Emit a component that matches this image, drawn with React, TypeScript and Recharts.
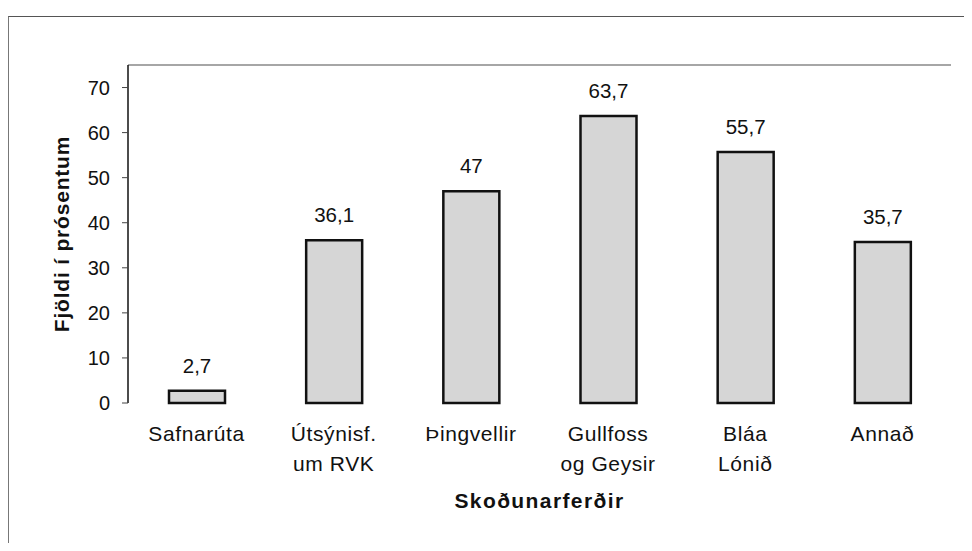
import { BarChart, Bar, XAxis, YAxis, LabelList, ReferenceLine } from 'recharts'

const categories = ['Safnarúta', 'Útsýnisf.\num RVK', 'Þingvellir', 'Gullfoss\nog Geysir', 'Bláa\nLónið', 'Annað']
const percents = [2.7, 36.1, 47, 63.7, 55.7, 35.7]
const yTicks = [0, 10, 20, 30, 40, 50, 60, 70]
const slotTicks = [0, 1, 2, 3, 4, 5, 6]

const chartData = categories.map((name, i) => ({ name, value: percents[i] }))

const FONT = '"Liberation Sans", Arial, Helvetica, sans-serif'

function formatValue(v: number): string {
  return String(v).replace('.', ',')
}

function CategoryTick({ x, y, payload }: { x?: number; y?: number; payload?: { value: string } }) {
  const lines = (payload?.value ?? '').split('\n')
  return (
    <text x={x} y={y} textAnchor="middle" fontFamily={FONT} fontSize={21} letterSpacing={0.6} fill="#111">
      {lines.map((line, i) => (
        <tspan key={i} x={x} dy={i === 0 ? 36 : 30}>
          {line}
        </tspan>
      ))}
    </text>
  )
}

function YTitle({ viewBox }: { viewBox?: { x: number; y: number; width: number; height: number } }) {
  if (!viewBox) return null
  const cx = viewBox.x + 61
  const cy = viewBox.y + viewBox.height / 2
  return (
    <text
      x={cx}
      y={cy}
      transform={`rotate(-90 ${cx} ${cy})`}
      textAnchor="middle"
      dominantBaseline="central"
      fontFamily={FONT}
      fontSize={21}
      letterSpacing={0.8}
      fontWeight="bold"
      fill="#111"
    >
      Fjöldi í prósentum
    </text>
  )
}

function XTitle({ viewBox }: { viewBox?: { x: number; y: number; width: number; height: number } }) {
  if (!viewBox) return null
  return (
    <text
      x={viewBox.x + viewBox.width / 2}
      y={viewBox.y + 105}
      textAnchor="middle"
      fontFamily={FONT}
      fontSize={21}
      letterSpacing={1.4}
      fontWeight="bold"
      fill="#111"
    >
      Skoðunarferðir
    </text>
  )
}

export default function App() {
  return (
    <div style={{ position: 'relative', width: 972, height: 551, margin: -8, overflow: 'hidden', background: '#fff' }}>
      <div
        style={{
          position: 'absolute',
          left: 8,
          top: 16,
          width: 990,
          height: 560,
          borderTop: '1.5px solid #555',
          borderLeft: '1.5px solid #777',
        }}
      />
      <div style={{ position: 'absolute', left: 0, top: 0 }}>
        <BarChart width={972} height={551} data={chartData} margin={{ top: 65, right: 21, bottom: 0, left: 0 }}>
          <XAxis
            xAxisId="slots"
            type="number"
            domain={[0, 6]}
            ticks={slotTicks}
            tick={false}
            height={0}
            tickSize={5}
            axisLine={{ stroke: '#111', strokeWidth: 1.5 }}
            tickLine={{ stroke: '#555' }}
          />
          <XAxis
            dataKey="name"
            height={148}
            axisLine={false}
            tickLine={false}
            tickSize={0}
            interval={0}
            tick={<CategoryTick />}
            label={{ content: <XTitle /> }}
          />
          <YAxis
            width={128}
            domain={[0, 75]}
            ticks={yTicks}
            tickSize={6}
            tickMargin={12}
            axisLine={{ stroke: '#111', strokeWidth: 1.5 }}
            tickLine={{ stroke: '#444' }}
            tick={{ fontFamily: FONT, fontSize: 20, fill: '#111' }}
            label={{ content: <YTitle /> }}
          />
          <YAxis
            yAxisId="frame"
            orientation="right"
            width={0}
            domain={[0, 75]}
            tick={false}
            tickLine={false}
            axisLine={{ stroke: '#888', strokeWidth: 1.5 }}
          />
          <ReferenceLine y={75} stroke="#888" strokeWidth={1.5} />
          <Bar dataKey="value" barSize={56} fill="#d6d6d6" stroke="#111" strokeWidth={2.5} isAnimationActive={false}>
            <LabelList
              dataKey="value"
              position="top"
              offset={18}
              formatter={(v: number) => formatValue(v)}
              style={{ fontFamily: FONT, fontSize: 20.5, fill: '#111' }}
            />
          </Bar>
        </BarChart>
      </div>
    </div>
  )
}
